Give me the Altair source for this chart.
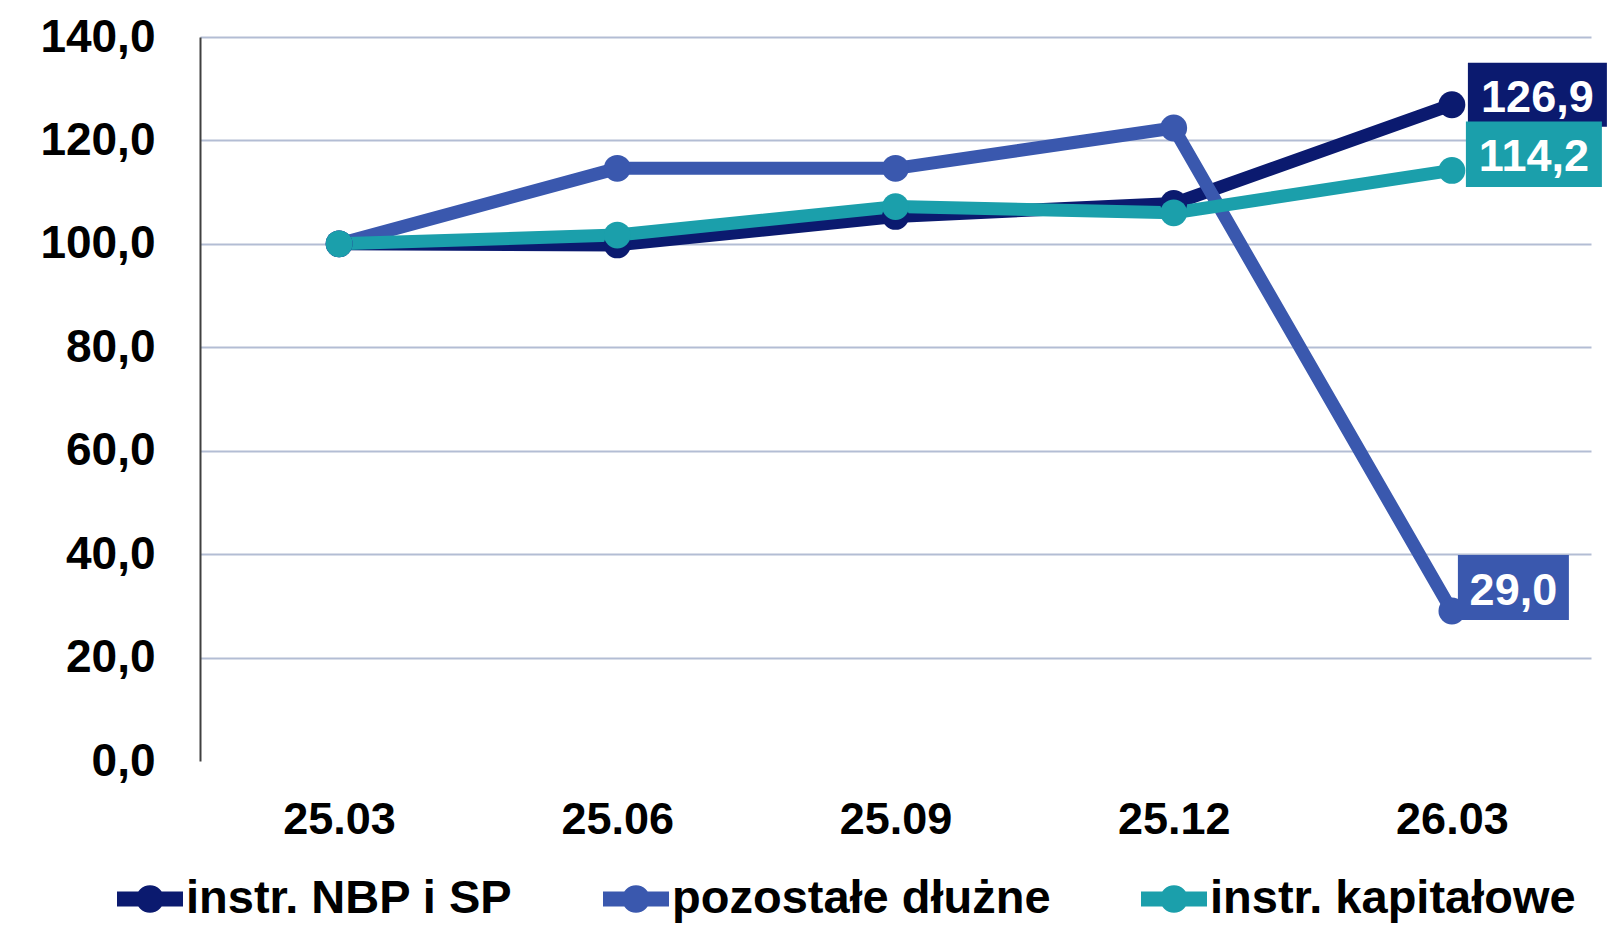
import altair as alt
import pandas as pd

# ---- data ----
periods = ["25.03", "25.06", "25.09", "25.12", "26.03"]
series_names = ["instr. NBP i SP", "pozostałe dłużne", "instr. kapitałowe"]
nbp = [100.0, 99.8, 105.3, 107.8, 126.9]
pozostale = [100.0, 114.6, 114.6, 122.4, 29.0]
kapitalowe = [100.0, 101.7, 107.2, 106.0, 114.2]
y_ticks = [0, 20, 40, 60, 80, 100, 120, 140]

# ---- styles ----
colors = ["#0B1A6F", "#3A58AE", "#1B9FAB"]
FONT = "Liberation Sans"
GRID = "#B3BDD4"

rows = []
for name, vals in zip(series_names, [nbp, pozostale, kapitalowe]):
    for p, v in zip(periods, vals):
        rows.append({"period": p, "series": name, "grp": name, "value": v,
                     "label": f"{v:.1f}".replace(".", ",")})
df = pd.DataFrame(rows)

x_enc = alt.X(
    "period:N", sort=periods,
    scale=alt.Scale(type="point", padding=0.5),
    axis=alt.Axis(title=None, labelAngle=0, domain=False, ticks=False, tickSize=0,
                  grid=False, labelFont=FONT, labelFontSize=45,
                  labelFontWeight="bold", labelColor="black", labelPadding=36),
)
y_enc = alt.Y(
    "value:Q",
    scale=alt.Scale(domain=[0, 140], nice=False, zero=True),
    axis=alt.Axis(title=None, values=y_ticks, ticks=False, tickSize=0,
                  labelExpr="replace(format(datum.value, '.1f'), '.', ',')",
                  labelFont=FONT, labelFontSize=46, labelFontWeight="bold",
                  labelColor="black", labelPadding=45,
                  domain=True, domainColor="#404040", domainWidth=2,
                  grid=True, gridColor=GRID, gridWidth=2,
                  gridOpacity={"condition": {"test": "datum.value === 0", "value": 0}, "value": 1}),
)

legend_symbol = ("M-1,-0.23 H1 V0.23 H-1 Z "
                 "M0.42,0 A0.42,0.42 0 1,1 -0.42,0 A0.42,0.42 0 1,1 0.42,0 Z")

lines = alt.Chart(df).mark_line(strokeWidth=13, strokeJoin="round").encode(
    x=x_enc, y=y_enc,
    stroke=alt.Stroke("grp:N", sort=series_names, scale=alt.Scale(range=colors), legend=None),
)

points = alt.Chart(df).mark_point(filled=True, size=720, opacity=1).encode(
    x=x_enc, y=y_enc,
    fill=alt.Fill("series:N", scale=alt.Scale(domain=series_names, range=colors),
                  legend=alt.Legend(title=None, orient="none", legendX=-83, legendY=829,
                                    direction="horizontal", symbolType=legend_symbol,
                                    symbolSize=4356, symbolStrokeWidth=0, symbolOpacity=1,
                                    labelFont=FONT, labelFontSize=47, labelFontWeight="bold",
                                    labelColor="black", labelOffset=3, columnPadding=90,
                                    padding=0, labelLimit=0)),
)

# label boxes (shape paths in units of 10px relative to the point) and text offsets
box_shapes = [
    "M1.6,-4.2 H15.5 V2.2 H1.6 Z",
    "M0.6,-5.6 H11.7 V0.9 H0.6 Z",
    "M1.4,-4.9 H15 V1.65 H1.4 Z",
]
text_offsets = [(85.5, -7), (61.5, -20.5), (82, -13)]

label_layers = []
for name, col, shp, (dx, dy) in zip(series_names, colors, box_shapes, text_offsets):
    flt = (alt.datum.series == name) & (alt.datum.period == periods[-1])
    box = alt.Chart(df).mark_point(shape=shp, filled=True, size=400, color=col,
                                   opacity=1).encode(x=x_enc, y=y_enc).transform_filter(flt)
    txt = alt.Chart(df).mark_text(color="white", font=FONT, fontSize=45, fontWeight="bold",
                                  align="center", baseline="middle", dx=dx, dy=dy).encode(
        x=x_enc, y=y_enc, text="label:N").transform_filter(flt)
    label_layers.append((box, txt))

layers = [lines, points]
for box, txt in label_layers:
    layers += [box, txt]

chart = alt.layer(*layers).properties(
    width=1391, height=724,
    padding={"left": 192, "top": 29, "right": 24, "bottom": 164},
    autosize=alt.AutoSizeParams(type="none"),
    background="white",
).configure_view(stroke=None)

chart.save("out.html", embed_options={"renderer": "svg", "actions": False})
